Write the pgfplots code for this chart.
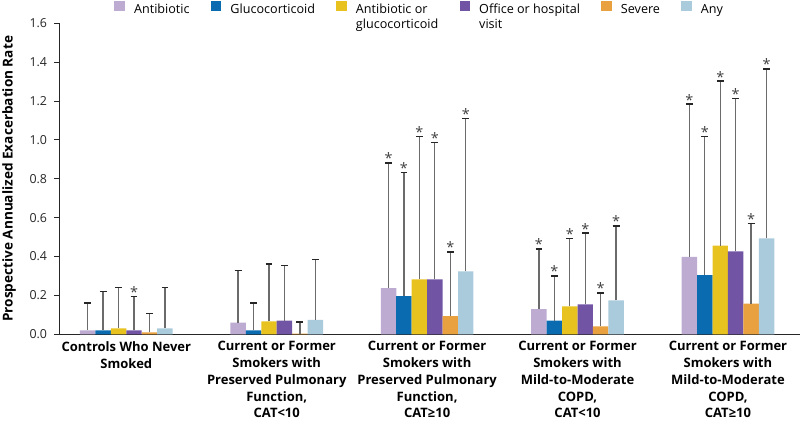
\documentclass[border=0pt]{standalone}
\usepackage{pgfplots}
\usepackage{pgfplotstable}
\pgfplotsset{compat=1.18}
\usepackage{fontspec}
\setmainfont{Open Sans}
\definecolor{cAnti}{HTML}{BEABD2}
\definecolor{cGluc}{HTML}{0A6BB0}
\definecolor{cEith}{HTML}{E8C21E}
\definecolor{cVisit}{HTML}{7254A4}
\definecolor{cSev}{HTML}{E9A03E}
\definecolor{cAny}{HTML}{AACBDB}

% x: bar position (group index + offset of the series within the group),
% y: rate, e: upper error, s: 1 = significant (asterisk)
\pgfplotstableread{
x y e s
-0.2566 0.020 0.140 0
0.7434 0.060 0.268 0
1.7434 0.238 0.644 1
2.7434 0.129 0.310 1
3.7434 0.398 0.786 1
}\tAnti
\pgfplotstableread{
x y e s
-0.1540 0.020 0.200 0
0.8460 0.020 0.140 0
1.8460 0.197 0.635 1
2.8460 0.070 0.230 1
3.8460 0.305 0.712 1
}\tGluc
\pgfplotstableread{
x y e s
-0.0513 0.030 0.210 0
0.9487 0.067 0.295 0
1.9487 0.283 0.734 1
2.9487 0.144 0.348 1
3.9487 0.456 0.846 1
}\tEith
\pgfplotstableread{
x y e s
0.0513 0.020 0.175 1
1.0513 0.070 0.285 0
2.0513 0.283 0.704 1
3.0513 0.154 0.366 1
4.0513 0.427 0.786 1
}\tVisit
\pgfplotstableread{
x y e s
0.1540 0.010 0.096 0
1.1540 0.004 0.058 0
2.1540 0.094 0.330 1
3.1540 0.041 0.172 1
4.1540 0.158 0.413 1
}\tSev
\pgfplotstableread{
x y e s
0.2566 0.030 0.210 0
1.2566 0.074 0.310 0
2.2566 0.324 0.786 1
3.2566 0.175 0.382 1
4.2566 0.494 0.871 1
}\tAny

\pgfplotsset{
  mybar/.style={ybar, bar width=7.72pt, bar shift=0pt, draw=none, fill=#1,
    error bars/y dir=plus, error bars/y explicit,
    error bars/error bar style={line width=0.65pt, draw=black!58},
    error bars/error mark options={rotate=90, line width=0.8pt, draw=black!85, mark size=1.7pt}},
  star/.style={draw=none, mark=none, forget plot,
    nodes near coords={*},
    every node near coord/.append style={anchor=south, inner sep=0pt, yshift=-0.6pt,
      font=\fontsize{7.2}{7.2}\selectfont, text=black!75}},
}

\begin{document}
\begin{tikzpicture}
\useasboundingbox (-29.65pt,-43.35pt) rectangle (370.35pt,167.15pt);
\begin{axis}[
  scale only axis,
  width=370.35pt, height=155.45pt,
  xmin=-0.4455, xmax=4.479,
  ymin=0, ymax=1.6,
  axis lines*=left,
  axis line style={line width=0.6pt, black!85},
  tick align=outside,
  major tick length=2.6pt,
  every tick/.style={line width=0.5pt, black!85},
  ytick={0,0.2,0.4,0.6,0.8,1.0,1.2,1.4,1.6},
  yticklabel style={font=\fontsize{6.2}{7}\selectfont, text=black!85,
    /pgf/number format/.cd, fixed, fixed zerofill, precision=1, assume math mode=true},
  xtick={0,1,2,3,4},
  x tick style={draw=none},
  xticklabels={
    {Controls Who Never\\Smoked},
    {Current or Former\\Smokers with\\Preserved Pulmonary\\Function,\\CAT<10},
    {Current or Former\\Smokers with\\Preserved Pulmonary\\Function,\\CAT≥10},
    {Current or Former\\Smokers with\\Mild-to-Moderate\\COPD,\\CAT<10},
    {Current or Former\\Smokers with\\Mild-to-Moderate\\COPD,\\CAT≥10}},
  xticklabel style={align=center, font=\bfseries\fontsize{6.5}{8.35}\selectfont, yshift=2.5pt},
  every axis y label/.style={at={(axis description cs:-0.0679,0.5)}, rotate=90, anchor=center},
  ylabel={Prospective Annualized Exacerbation Rate},
  ylabel style={font=\bfseries\fontsize{6.8}{7}\selectfont},
  legend columns=6,
  legend style={draw=none, fill=none, at={(axis description cs:0,1)}, anchor=north west,
    xshift=27.35pt, yshift=11.8pt, inner sep=0pt,
    font=\fontsize{6.3}{7.5}\selectfont,
    cells={align=left},
    /tikz/every odd column/.style={column sep=2.6pt},
    /tikz/every even column/.style={column sep=8.6pt}},
  legend image code/.code={\fill[#1, draw=none] (0pt,3.3pt) rectangle (5.25pt,8.55pt);},
]
\addplot[mybar=cAnti] table[x=x, y=y, y error=e] {\tAnti};
\addlegendentry{Antibiotic\\\strut}
\addplot[mybar=cGluc] table[x=x, y=y, y error=e] {\tGluc};
\addlegendentry{Glucocorticoid\\\strut}
\addplot[mybar=cEith] table[x=x, y=y, y error=e] {\tEith};
\addlegendentry{Antibiotic or\\glucocorticoid}
\addplot[mybar=cVisit] table[x=x, y=y, y error=e] {\tVisit};
\addlegendentry{Office or hospital\\visit}
\addplot[mybar=cSev] table[x=x, y=y, y error=e] {\tSev};
\addlegendentry{Severe\\\strut}
\addplot[mybar=cAny] table[x=x, y=y, y error=e] {\tAny};
\addlegendentry{Any\\\strut}

\addplot[star, restrict expr to domain={\thisrow{s}}{0.5:1.5}] table[x=x, y expr=\thisrow{y}+\thisrow{e}] {\tAnti};
\addplot[star, restrict expr to domain={\thisrow{s}}{0.5:1.5}] table[x=x, y expr=\thisrow{y}+\thisrow{e}] {\tGluc};
\addplot[star, restrict expr to domain={\thisrow{s}}{0.5:1.5}] table[x=x, y expr=\thisrow{y}+\thisrow{e}] {\tEith};
\addplot[star, restrict expr to domain={\thisrow{s}}{0.5:1.5}] table[x=x, y expr=\thisrow{y}+\thisrow{e}] {\tVisit};
\addplot[star, restrict expr to domain={\thisrow{s}}{0.5:1.5}] table[x=x, y expr=\thisrow{y}+\thisrow{e}] {\tSev};
\addplot[star, restrict expr to domain={\thisrow{s}}{0.5:1.5}] table[x=x, y expr=\thisrow{y}+\thisrow{e}] {\tAny};
\end{axis}
\end{tikzpicture}
\end{document}
